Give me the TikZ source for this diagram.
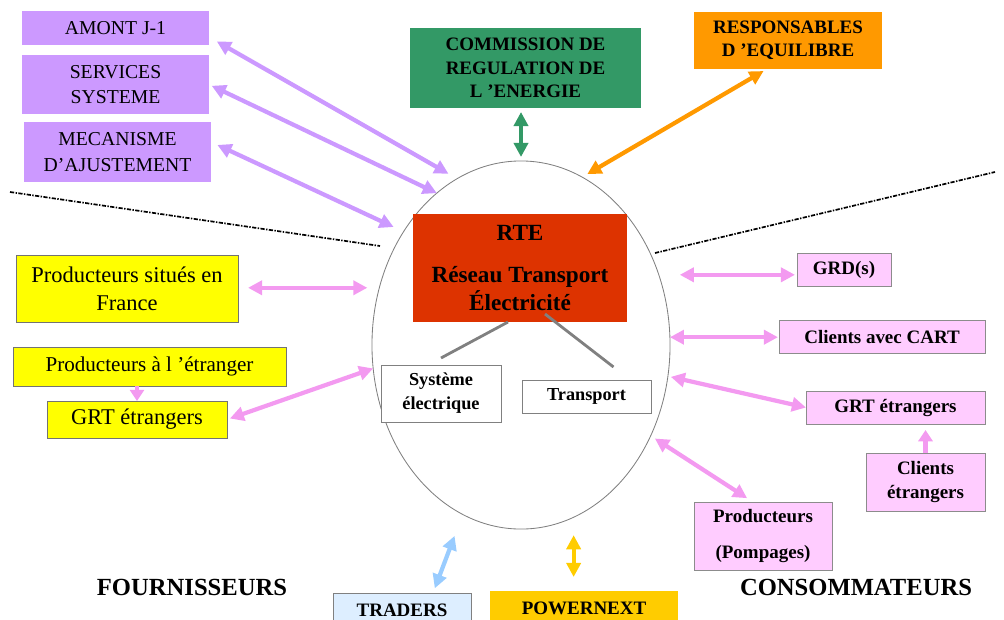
\documentclass[tikz,border=0pt]{standalone}
\usepackage{fontspec}
\setmainfont{Liberation Serif}
\usetikzlibrary{shapes.geometric,arrows.meta}
\definecolor{mauve}{HTML}{CC99FF}
\definecolor{crevert}{HTML}{339966}
\definecolor{orangeq}{HTML}{FF9900}
\definecolor{rouge}{HTML}{DD3300}
\definecolor{jaune}{HTML}{FFFF00}
\definecolor{rose}{HTML}{FFCCFF}
\definecolor{rosefl}{HTML}{F39AF0}
\definecolor{bleuclair}{HTML}{DDEEFF}
\definecolor{bleufl}{HTML}{99CCFF}
\definecolor{orpn}{HTML}{FFCC00}
\begin{document}
\begin{tikzpicture}[
            x=0.025cm, y=-0.025cm,
            box/.style      = {rectangle, inner sep=0pt, outer sep=0pt, align=center},
            mauvebox/.style = {box, fill=mauve, font=\fontsize{14}{18}\selectfont},
            boldbox/.style  = {box, font=\bfseries\fontsize{13.5}{16.5}\selectfont},
            jaunebox/.style = {box, fill=jaune, draw=black!55, line width=0.5pt, font=\fontsize{16}{20}\selectfont},
            rosebox/.style  = {box, fill=rose, draw=black!45, line width=0.5pt, font=\bfseries\fontsize{13.5}{17.5}\selectfont},
            blancbox/.style = {box, fill=white, draw=black!50, line width=0.5pt, font=\bfseries\fontsize{13}{17}\selectfont},
            titre/.style    = {inner sep=0pt, font=\bfseries\fontsize{17.5}{20}\selectfont},
            arr/.style      = {line width=3pt, {Triangle[length=10pt, width=10pt]}-{Triangle[length=10pt, width=10pt]}},
            mauvearr/.style = {arr, draw=mauve},
            pinkarr/.style  = {arr, draw=rosefl},
            pinktip/.style  = {line width=3pt, draw=rosefl, -{Triangle[length=8pt, width=10pt]}},
            link/.style     = {line width=2pt, draw=black!50},
            sep/.style      = {line width=1.2pt, dash pattern=on 3pt off 1pt on 1pt off 1pt}
        ]
            \useasboundingbox (0,0) rectangle (1004,619);

            \node[ellipse, draw=black!50, line width=0.6pt, minimum width=7.45cm, minimum height=9.2cm, inner sep=0pt, outer sep=0pt] (zone) at (521,345) {};

            \draw[sep] (10,192) -- (380,246);
            \draw[sep] (655,253) -- (995,172);

            \node[mauvebox, minimum width=4.675cm, minimum height=0.85cm] (amont) at (115.5,28) {AMONT J-1};
            \node[mauvebox, minimum width=4.675cm, minimum height=1.475cm] (services) at (115.5,84.5) {SERVICES\\SYSTEME};
            \node[mauvebox, minimum width=4.675cm, minimum height=1.5cm] (mecanisme) at (117.5,152) {MECANISME\\D’AJUSTEMENT};

            \node[boldbox, fill=crevert, minimum width=5.775cm, minimum height=2cm] (cre) at (525.5,68) {COMMISSION DE\\REGULATION DE\\L ’ENERGIE};
            \node[boldbox, fill=orangeq, minimum width=4.7cm, minimum height=1.425cm] (resp) at (788,40.5) {RESPONSABLES\\D ’EQUILIBRE};

            \node[box, fill=rouge, minimum width=5.35cm, minimum height=2.7cm, font=\bfseries\fontsize{16.5}{19.8}\selectfont] (rte) at (520,268) {RTE\\[10pt]Réseau Transport\\Électricité};
            \node[blancbox, minimum width=3cm, minimum height=1.425cm] (syst) at (441,393.5) {Système\\électrique};
            \node[blancbox, minimum width=3.225cm, minimum height=0.825cm] (transp) at (586.5,396.5) {Transport};

            \draw[link] ([xshift=-0.3cm]rte.south) -- ([yshift=0.175cm]syst.north);
            \draw[link] ([xshift=0.625cm, yshift=0.2cm]rte.south) -- ([xshift=0.675cm, yshift=0.325cm]transp.north);

            \node[jaunebox, minimum width=5.55cm, minimum height=1.675cm] (pfr) at (127,288.5) {Producteurs situés en\\France};
            \node[jaunebox, minimum width=6.825cm, minimum height=0.975cm, font=\fontsize{15}{18}\selectfont] (petr) at (149.5,366.5) {Producteurs à l ’étranger};
            \node[jaunebox, minimum width=4.5cm, minimum height=0.925cm] (grtl) at (137,419.5) {GRT étrangers};

            \node[rosebox, minimum width=2.35cm, minimum height=0.825cm] (grd) at (844,269.5) {GRD(s)};
            \node[rosebox, minimum width=5.15cm, minimum height=0.825cm] (cart) at (882,336.5) {Clients avec CART};
            \node[rosebox, minimum width=4.475cm, minimum height=0.825cm] (grtr) at (895.5,407.5) {GRT étrangers};
            \node[rosebox, minimum width=2.975cm, minimum height=1.45cm] (cetr) at (925.5,482) {Clients\\étrangers};
            \node[rosebox, minimum width=3.45cm, minimum height=1.7cm, font=\bfseries\fontsize{13.5}{25}\selectfont] (pomp) at (763,536) {Producteurs\\(Pompages)};

            \node[boldbox, fill=bleuclair, draw=black!50, line width=0.5pt, minimum width=3.45cm, minimum height=0.85cm] (traders) at (402,610) {TRADERS};
            \node[boldbox, fill=orpn, minimum width=4.7cm, minimum height=0.85cm] (powernext) at (584,608) {POWERNEXT};

            \node[titre] (fourn) at (192,587) {FOURNISSEURS};
            \node[titre] (conso) at (856,587) {CONSOMMATEURS};

            \draw[mauvearr, shorten <=0.225cm, shorten >=0.25cm] ([yshift=-0.225cm]amont.east) -- (zone.111);
            \draw[mauvearr, shorten <=0.075cm] (services.east) -- (zone.119);
            \draw[mauvearr, shorten <=0.175cm, shorten >=0.275cm] ([yshift=0.25cm]mecanisme.east) -- (zone.136);
            \draw[arr, draw=crevert, shorten <=0.1cm, shorten >=0.1cm] (zone.north |- cre.south) -- (zone.north);
            \draw[arr, draw=orangeq, shorten <=0.1cm, shorten >=0.15cm] ([xshift=-0.525cm]resp.south) -- (zone.70);

            \draw[pinkarr, shorten <=0.25cm, shorten >=0.3cm] (zone.158 -| pfr.east) -- (zone.158);
            \draw[pinktip] (petr.south -| grtl.north) -- (grtl.north);
            \draw[pinkarr, shorten <=0.075cm] (grtl.east) -- (zone.189);

            \draw[pinkarr, shorten <=0.525cm, shorten >=0.05cm] (zone.27) -- (zone.27 -| grd.west);
            \draw[pinkarr, shorten >=0.025cm] (zone.3) -- (zone.3 -| cart.west);
            \draw[pinkarr, shorten <=0.075cm] (zone.-12) -- (grtr.west);
            \draw[pinktip, shorten >=0.15cm] (cetr.north) -- (cetr.north |- grtr.south);
            \draw[pinkarr, shorten <=0.125cm, shorten >=0.175cm] (zone.-35) -- ([xshift=-0.25cm]pomp.north);

            \draw[arr, draw=bleufl, shorten <=0.125cm, shorten >=0.575cm] ([xshift=0.775cm]traders.north) -- (zone.251);
            \draw[arr, draw=orpn, shorten <=0.45cm, shorten >=0.35cm] (zone.-73) -- (zone.-73 |- powernext.north);
        \end{tikzpicture}
\end{document}
